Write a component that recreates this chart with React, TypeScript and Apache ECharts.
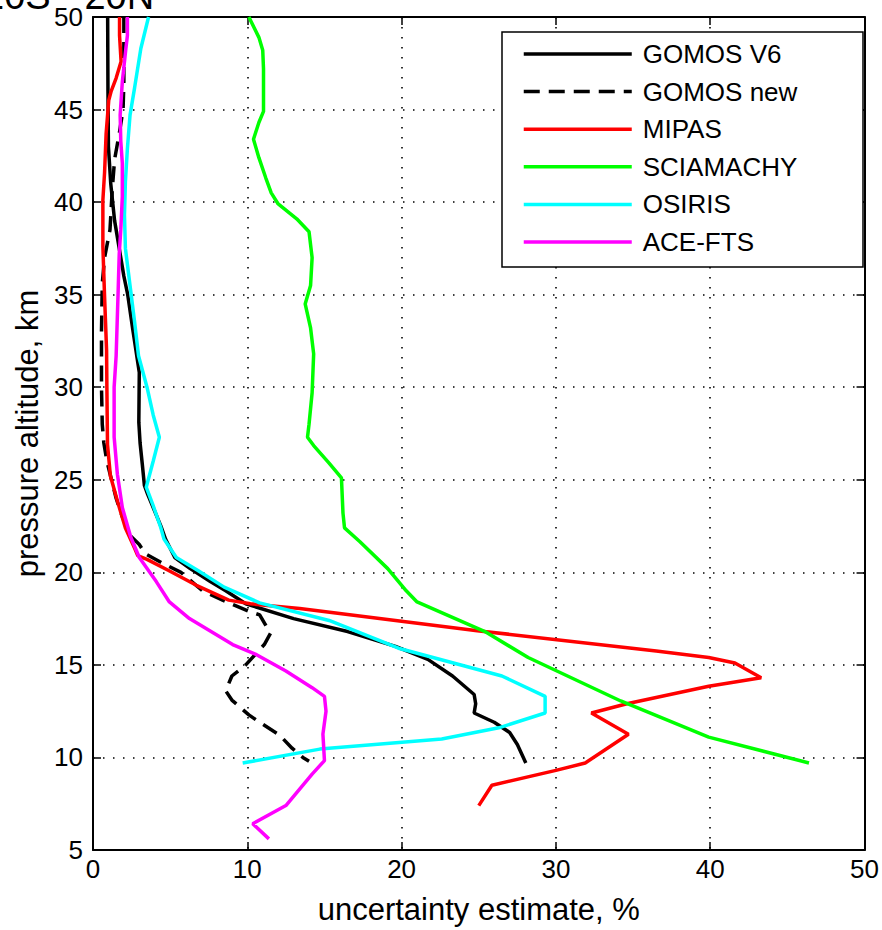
import React, { useEffect, useRef } from 'react';
import * as echarts from 'echarts';

// ---- data: altitude (km) and uncertainty estimate (%) per instrument ----
const seriesNames = ['GOMOS V6', 'GOMOS new', 'MIPAS', 'SCIAMACHY', 'OSIRIS', 'ACE-FTS'];

const gomosV6Alt = [50, 46, 43, 41, 39, 37.5, 36, 35, 33, 30.8, 28.1, 27.0, 25.8, 24.7, 24.2, 22.5, 21.8, 20.8, 20.2, 19.5, 19.0, 18.3, 17.5, 16.8, 16.0, 15.3, 14.4, 13.4, 12.9, 12.4, 11.9, 11.35, 10.7, 9.7];
const gomosV6Val = [0.95, 0.97, 1.0, 1.15, 1.4, 1.7, 2.0, 2.25, 2.6, 3.0, 2.97, 3.05, 3.2, 3.33, 3.55, 4.4, 4.7, 5.3, 6.3, 7.6, 8.6, 9.9, 13.0, 16.5, 19.6, 21.7, 23.3, 24.7, 24.8, 24.7, 26.0, 27.0, 27.5, 28.05];

const gomosNewAlt = [50, 48, 46.5, 45, 43.7, 42.3, 40.7, 38.5, 37, 35.6, 33, 30, 28, 27, 26, 25, 24, 23, 22, 21.5, 21, 20.5, 20, 19, 18.5, 17.9, 17.7, 16.7, 16.1, 15, 14.4, 13.6, 13.1, 12.3, 11.9, 11.2, 10.5, 10.0, 9.8];
const gomosNewVal = [2.0, 2.0, 2.0, 1.95, 1.7, 1.4, 1.25, 1.1, 0.75, 0.6, 0.55, 0.55, 0.6, 0.7, 0.9, 1.2, 1.5, 1.9, 2.4, 3.0, 3.4, 4.5, 5.7, 7.1, 8.4, 10.1, 10.8, 11.5, 11.1, 9.9, 9.0, 8.6, 9.0, 10.1, 10.8, 12.1, 12.9, 13.6, 14.0];

const mipasAlt = [50, 49, 47.6, 46.7, 46.0, 45.5, 43.7, 41.6, 40.1, 37.6, 34.9, 32, 30, 26.9, 25.2, 23.8, 22.4, 21.3, 20.9, 20.7, 20.1, 19.3, 18.5, 18.3, 18.05, 16.85, 15.75, 15.4, 15.1, 14.3, 13.85, 12.9, 12.4, 11.25, 9.7, 9.3, 8.5, 7.4];
const mipasVal = [1.72, 1.72, 1.82, 1.5, 1.18, 1.02, 0.85, 0.75, 0.64, 0.64, 0.75, 0.88, 0.9, 0.94, 1.13, 1.6, 2.1, 2.7, 2.9, 3.5, 4.9, 6.7, 8.8, 10.2, 13.4, 24.9, 36.5, 39.9, 41.6, 43.3, 39.9, 34.6, 32.3, 34.7, 31.9, 30.0, 25.85, 25.0];

const sciamachyAlt = [50, 48.9, 48.2, 47.2, 44.9, 44.3, 43.4, 42.4, 41.3, 40.5, 39.9, 39.1, 38.4, 37.0, 35.5, 34.5, 33.2, 31.8, 29.7, 28.0, 27.3, 26.85, 25.9, 25.1, 23.2, 22.4, 21.65, 20.2, 19.0, 18.4, 16.8, 15.4, 13.05, 11.1, 9.7];
const sciamachyVal = [10.1, 10.75, 11.0, 11.05, 11.05, 10.75, 10.4, 10.75, 11.2, 11.55, 12.0, 13.2, 14.0, 14.2, 14.1, 13.75, 14.1, 14.3, 14.2, 14.0, 13.9, 14.3, 15.3, 16.1, 16.2, 16.3, 17.3, 19.1, 20.3, 21.0, 25.4, 28.2, 34.2, 39.9, 46.4];

const osirisAlt = [50, 48.3, 46.2, 44.7, 42.9, 41.1, 39.3, 37.5, 35.5, 33.5, 31.7, 30, 28.5, 27.3, 26, 24.6, 23.6, 22.4, 21.8, 20.8, 20.1, 19.2, 18.35, 17.4, 15.9, 14.4, 13.3, 12.4, 11.6, 11.0, 10.45, 9.7];
const osirisVal = [3.6, 3.1, 2.7, 2.4, 2.23, 2.1, 2.04, 2.1, 2.4, 2.7, 2.95, 3.5, 3.9, 4.3, 3.9, 3.45, 3.9, 4.4, 4.6, 5.4, 6.8, 8.5, 10.8, 15.3, 19.8, 26.5, 29.3, 29.3, 26.3, 22.6, 14.7, 9.7];

const aceAlt = [50, 49, 48.3, 46.5, 44.7, 43.3, 42.1, 40.3, 38.5, 37.2, 35.2, 31.7, 30, 27.3, 25.3, 23.5, 21.9, 20.8, 19.5, 18.4, 17.5, 16.1, 15.55, 14.67, 13.77, 13.3, 12.5, 11.26, 9.83, 9.1, 7.4, 6.42, 5.6];
const aceVal = [2.23, 2.23, 2.13, 1.9, 1.76, 1.8, 1.9, 1.9, 1.8, 1.7, 1.63, 1.5, 1.37, 1.37, 1.58, 1.9, 2.45, 3.0, 4.1, 4.95, 6.25, 9.05, 10.6, 12.5, 14.2, 15.0, 15.1, 14.9, 15.0, 14.2, 12.5, 10.35, 11.4];

const titleText = '20S - 20N';
const xAxisTitle = 'uncertainty estimate, %';
const yAxisTitle = 'pressure altitude, km';

const zip = (vals: number[], alts: number[]) => vals.map((v, i) => [v, alts[i]]);

const FONT = "'Liberation Sans', Arial, Helvetica, sans-serif";

export default function App() {
  const ref = useRef<HTMLDivElement>(null);
  useEffect(() => {
    if (!ref.current) return;
    const chart = echarts.init(ref.current, undefined, { renderer: 'svg' });

    const axisLine = { show: true, onZero: false, lineStyle: { color: '#000', width: 2 } };
    const axisTick = { show: true, inside: true, length: 8, lineStyle: { color: '#000', width: 1.5 } };
    const labelStyle = { fontSize: 26, color: '#000', fontFamily: FONT };
    const dotted = { show: true, lineStyle: { type: [1.5, 8.5], color: '#000', width: 1.6 } };

    const mk = (name: string, vals: number[], alts: number[], color: string, dashed = false) => ({
      name,
      type: 'line',
      xAxisIndex: 0,
      yAxisIndex: 0,
      data: zip(vals, alts),
      symbol: 'none',
      showSymbol: false,
      clip: true,
      z: 2,
      itemStyle: { color },
      lineStyle: { color, width: 3.5, type: dashed ? [16, 9] : 'solid' },
    });

    const option: any = {
      animation: false,
      backgroundColor: '#ffffff',
      textStyle: { fontFamily: FONT },
      grid: { left: 93, top: 17, width: 773, height: 836 },
      xAxis: [
        {
          type: 'value', position: 'bottom', min: 0, max: 50, interval: 10,
          axisLine, axisTick,
          axisLabel: { ...labelStyle, margin: 6 },
          splitLine: dotted,
          name: xAxisTitle, nameLocation: 'middle', nameGap: 44,
          nameTextStyle: { fontSize: 31, color: '#000', fontFamily: FONT },
        },
        {
          type: 'value', position: 'top', min: 0, max: 50, interval: 10,
          axisLine, axisTick, axisLabel: { show: false }, splitLine: { show: false },
        },
      ],
      yAxis: [
        {
          type: 'value', position: 'left', min: 5, max: 50, interval: 5,
          axisLine, axisTick,
          axisLabel: { ...labelStyle, margin: 10 },
          splitLine: dotted,
          name: yAxisTitle, nameLocation: 'middle', nameGap: 50,
          nameTextStyle: { fontSize: 31, color: '#000', fontFamily: FONT },
        },
        {
          type: 'value', position: 'right', min: 5, max: 50, interval: 5,
          axisLine, axisTick, axisLabel: { show: false }, splitLine: { show: false },
        },
      ],
      legend: {
        data: seriesNames,
        orient: 'vertical',
        left: 522,
        top: 41,
        padding: 0,
        itemWidth: 108,
        itemHeight: 20,
        itemGap: 11.6,
        selectedMode: false,
        itemStyle: { color: 'rgba(0,0,0,0)', borderColor: 'rgba(0,0,0,0)', borderWidth: 0, opacity: 0 },
        lineStyle: { width: 3.5 },
        textStyle: { fontSize: 26, color: '#000', fontFamily: FONT, lineHeight: 20, padding: [0, 0, 0, 6] },
        z: 6,
      },
      graphic: [
        {
          type: 'rect', z: 5,
          shape: { x: 502, y: 32, width: 361, height: 235 },
          style: { fill: '#ffffff', stroke: '#000', lineWidth: 1.5 },
        },
        {
          type: 'text', z: 10, x: -17, y: -23,
          style: { text: titleText, font: `38px ${FONT}`, fill: '#000' },
        },
      ],
      series: [
        mk(seriesNames[0], gomosV6Val, gomosV6Alt, '#000000'),
        mk(seriesNames[1], gomosNewVal, gomosNewAlt, '#000000', true),
        mk(seriesNames[2], mipasVal, mipasAlt, '#ff0000'),
        mk(seriesNames[3], sciamachyVal, sciamachyAlt, '#00ff00'),
        mk(seriesNames[4], osirisVal, osirisAlt, '#00ffff'),
        mk(seriesNames[5], aceVal, aceAlt, '#ff00ff'),
      ],
    };
    chart.setOption(option);
    return () => chart.dispose();
  }, []);
  return <div ref={ref} style={{ position: 'absolute', left: 0, top: 0, width: 882, height: 930, background: '#fff' }} />;
}
